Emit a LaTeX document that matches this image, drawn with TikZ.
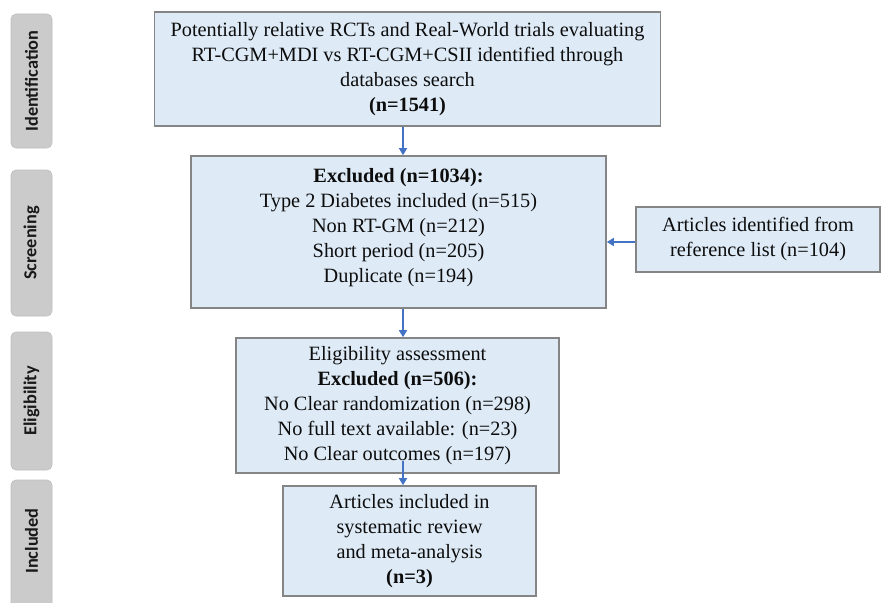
\documentclass[tikz,border=0pt]{standalone}
\usepackage{fontspec}
\setmainfont{Liberation Serif}
\newfontfamily\sidefont{Carlito}
\usetikzlibrary{arrows.meta,calc}
\definecolor{boxfill}{HTML}{DEEBF7}
\definecolor{boxline}{HTML}{858585}
\definecolor{arrblue}{HTML}{4472C4}
\definecolor{sidefill}{HTML}{CBCBCB}
\definecolor{sideline}{HTML}{BDBDBD}
\tikzset{
  flowbox/.style={draw=boxline, line width=1.6pt, fill=boxfill, align=center,
    inner sep=0pt, font=\fontsize{20.3}{25}\selectfont, text=black!95},
  sidebox/.style={draw=sideline, line width=0.6pt, fill=sidefill, rounded corners=5pt},
  sidetext/.style={rotate=90, font=\sidefont\bfseries\fontsize{18.3}{20}\selectfont, text=black!90},
  arr/.style={draw=arrblue, line width=1.4pt, -{Triangle[length=7pt,width=8pt]}}
}
\begin{document}
\begin{tikzpicture}[x=1pt,y=-1pt]
\useasboundingbox (0,0) rectangle (882,602);
\begin{scope}
\clip (0,0) rectangle (882,602);
% side labels
\path[sidebox] (11,14) rectangle (52,148);
\node[sidetext] (sid) at (31.5,81) {Identification};
\path[sidebox] (11,170) rectangle (52,316);
\node[sidetext] (sscr) at (31.5,243) {Screening};
\path[sidebox] (11,332) rectangle (52,470);
\node[sidetext] (selig) at (31.5,401) {Eligibility};
\path[sidebox] (11,480) rectangle (52,640);
\node[sidetext] (sinc) at (31.5,541) {Included};
\end{scope}
% main boxes
\node[flowbox, minimum width=506pt, minimum height=114pt] (top) at (407.5,69)
  {Potentially relative RCTs and Real-World trials evaluating\\
   RT-CGM+MDI vs RT-CGM+CSII identified through\\
   databases search\\
   \textbf{(n=1541)}};
\node[flowbox, minimum width=415pt, minimum height=152pt] (excl) at (398.5,232)
  {\textbf{Excluded (n=1034):}\\
   Type 2 Diabetes included (n=515)\\
   Non RT-GM (n=212)\\
   Short period (n=205)\\
   Duplicate (n=194)\\[-12pt]\mbox{}};
\node[flowbox, minimum width=244pt, minimum height=65pt] (ref) at (758,239.5)
  {Articles identified from\\ reference list (n=104)};
\node[flowbox, minimum width=323pt, minimum height=135pt] (elig) at (397.5,405.5)
  {Eligibility assessment\\
   \textbf{Excluded (n=506):}\\
   No Clear randomization (n=298)\\
   No full text available: (n=23)\\
   No Clear outcomes (n=197)};
\node[flowbox, minimum width=253pt, minimum height=110pt] (inc) at (409.5,541)
  {Articles included in\\
   systematic review\\
   and meta-analysis\\
   \textbf{(n=3)}};
% arrows
\coordinate (ax) at (403,0);
\draw[arr] (top.south -| ax) -- (excl.north -| ax);
\draw[arr] (excl.south -| ax) -- (elig.north -| ax);
\draw[arr] ($(elig.south -| ax)+(0,-13)$) -- (inc.north -| ax);
\draw[arr] (ref.west |- 0,242) -- (excl.east |- 0,242);
\end{tikzpicture}
\end{document}
